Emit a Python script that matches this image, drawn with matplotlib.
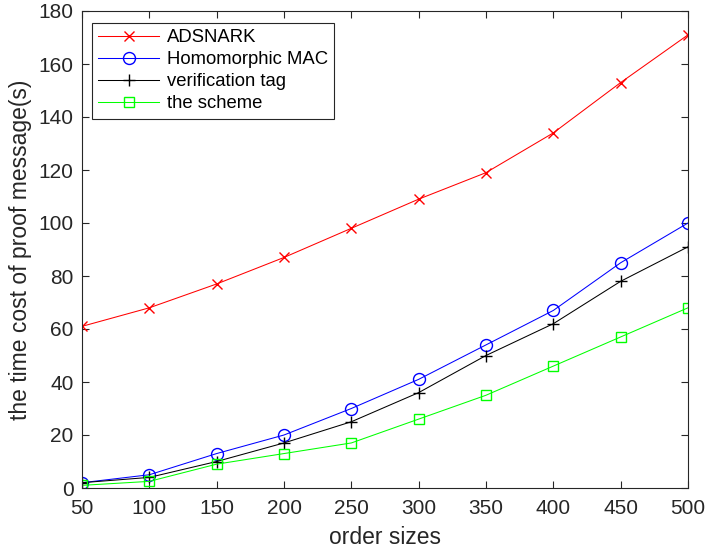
import matplotlib
matplotlib.use('Agg')
import matplotlib.pyplot as plt

plt.rcParams['font.family'] = ['Liberation Sans', 'DejaVu Sans']

order_sizes = [50, 100, 150, 200, 250, 300, 350, 400, 450, 500]
adsnark = [61, 68, 77, 87, 98, 109, 119, 134, 153, 171]
homomorphic_mac = [2, 5, 13, 20, 30, 41, 54, 67, 85, 100]
verification_tag = [2, 4, 10, 17, 25, 36, 50, 62, 78, 91]
the_scheme = [1, 2.5, 9, 13, 17, 26, 35, 46, 57, 68]

W, H = 708, 549
fig = plt.figure(figsize=(W / 100, H / 100), dpi=100)
# axes box in pixels: left 82, right 688, top 11, bottom 488
ax = fig.add_axes([82 / W, 1 - 488 / H, (688 - 82) / W, (488 - 11) / H])

ax.plot(order_sizes, adsnark, color='#ff0000', marker='x', markersize=7,
        linewidth=0.75, label='ADSNARK')
ax.plot(order_sizes, homomorphic_mac, color='#0000ff', marker='o', markersize=8.6,
        markerfacecolor='none', linewidth=0.75, label='Homomorphic MAC')
ax.plot(order_sizes, verification_tag, color='#000000', marker='+', markersize=9,
        linewidth=0.75, label='verification tag')
ax.plot(order_sizes, the_scheme, color='#00ff00', marker='s', markersize=7.2,
        markerfacecolor='none', linewidth=0.75, label='the scheme')

ax.set_xlim(50, 500)
ax.set_ylim(0, 180)
ax.set_xticks(order_sizes)
ax.set_yticks(range(0, 181, 20))
ax.tick_params(direction='in', top=True, right=True, labelsize=15, colors='#262626',
               length=5, width=0.8)
ax.tick_params(axis='x', pad=8)
ax.tick_params(axis='y', pad=6)
for s in ax.spines.values():
    s.set_color('#262626')
    s.set_linewidth(0.8)

ax.set_xlabel('order sizes', fontsize=16.5, color='#262626', labelpad=6)
ax.set_ylabel('the time cost of proof message(s)', fontsize=16.5, color='#262626',
              labelpad=5)

leg = ax.legend(loc='upper left', fontsize=13.3, fancybox=False, edgecolor='#262626',
                framealpha=1, handlelength=3.3, handletextpad=0.4, borderpad=0.35,
                labelspacing=0.27, borderaxespad=0,
                bbox_to_anchor=(92 / W, 1 - 23 / H), bbox_transform=fig.transFigure)
leg.get_frame().set_linewidth(0.8)

fig.savefig('out.png', dpi=100)
